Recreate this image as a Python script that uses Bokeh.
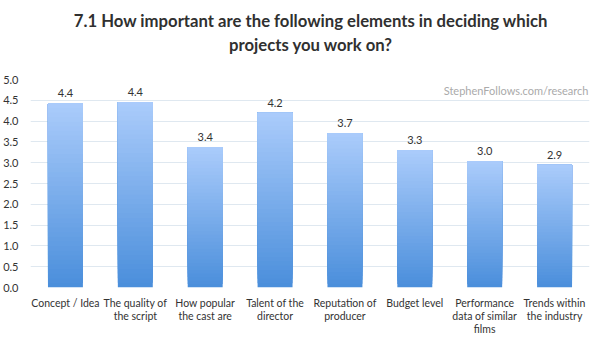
from bokeh.plotting import figure
from bokeh.models import ColumnDataSource, Label, FactorRange
from bokeh.layouts import column
from bokeh.core.properties import value
from bokeh.embed import file_html
from bokeh.resources import INLINE

categories = ["Concept / Idea", "The quality of\nthe script", "How popular\nthe cast are",
              "Talent of the\ndirector", "Reputation of\nproducer", "Budget level",
              "Performance\ndata of similar\nfilms", "Trends within\nthe industry"]
values = [4.43, 4.46, 3.38, 4.20, 3.71, 3.30, 3.04, 2.95]
value_labels = ["4.4", "4.4", "3.4", "4.2", "3.7", "3.3", "3.0", "2.9"]
y_ticks = [0.0, 0.5, 1.0, 1.5, 2.0, 2.5, 3.0, 3.5, 4.0, 4.5, 5.0]
title_lines = ["7.1 How important are the following elements in deciding which",
               "projects you work on?"]

TITLE_FONT = "Lato"
BODY_FONT = "Lato"

# ---- title strip ----
tf = figure(width=600, height=70, x_range=(0, 600), y_range=(70, 0),
            output_backend="svg", toolbar_location=None, x_axis_type=None, y_axis_type=None,
            min_border=0)
tf.outline_line_color = None
tf.xgrid.grid_line_color = None
tf.ygrid.grid_line_color = None
tsrc = ColumnDataSource(dict(x=[301, 301], y=[20, 44], t=title_lines))
tf.text(x="x", y="y", text="t", source=tsrc, text_align="center", text_baseline="middle",
        text_font=value(TITLE_FONT), text_font_size="16.7px", text_font_style="bold",
        text_color="#303030")

# ---- main chart ----
p = figure(x_range=FactorRange(*categories, range_padding=0), y_range=(0, 5),
           width=600, height=270, output_backend="svg", toolbar_location=None,
           min_border_left=24, min_border_right=11, min_border_top=9, min_border_bottom=53)
p.outline_line_color = None
p.background_fill_color = "white"

# gradient bars: overlapping segments from bottom (dark) to top (light)
N = 40
c0 = (0x4a, 0x8e, 0xdb)
c1 = (0xab, 0xcc, 0xfb)
xs, bots, tops, cols = [], [], [], []
for i in range(N):
    t = (i + 0.5) / N
    col = "#%02x%02x%02x" % tuple(int(round(a + (b - a) * t)) for a, b in zip(c0, c1))
    for cat, v in zip(categories, values):
        xs.append(cat)
        bots.append(v * i / N)
        tops.append(v)
        cols.append(col)
p.vbar(x=xs, bottom=bots, top=tops, width=0.5, fill_color=cols, line_color=None)

src = ColumnDataSource(dict(x=categories, y=values, t=value_labels))
p.text(x="x", y="y", text="t", source=src, text_align="center", text_baseline="bottom",
       y_offset=-6, text_font_size="11px", text_color="#333333", text_font=value(BODY_FONT))

p.yaxis.ticker = y_ticks
p.yaxis.major_label_overrides = {v: "%.1f" % v for v in y_ticks}
for ax in (p.xaxis, p.yaxis):
    ax.axis_line_color = None
    ax.major_tick_line_color = None
    ax.minor_tick_line_color = None
    ax.major_label_text_font = BODY_FONT
    ax.major_label_text_color = "#333333"
p.yaxis.major_label_text_font_size = "11px"
p.xaxis.major_label_text_font_size = "10.5px"
p.xaxis.major_label_text_line_height = 1.1
p.yaxis.major_label_standoff = 6
p.xaxis.major_label_standoff = 3
p.xgrid.grid_line_color = None
p.ygrid.grid_line_color = "#dfe8f0"
p.ygrid.grid_line_width = 1

p.add_layout(Label(x=8, y=4.735, x_offset=-1, text="StephenFollows.com/research",
                   text_align="right", text_baseline="middle", text_font=BODY_FONT,
                   text_font_size="11px", text_color="#aaaaaa"))

layout = column(tf, p, spacing=0)
open("out.html", "w").write(file_html(layout, INLINE))
